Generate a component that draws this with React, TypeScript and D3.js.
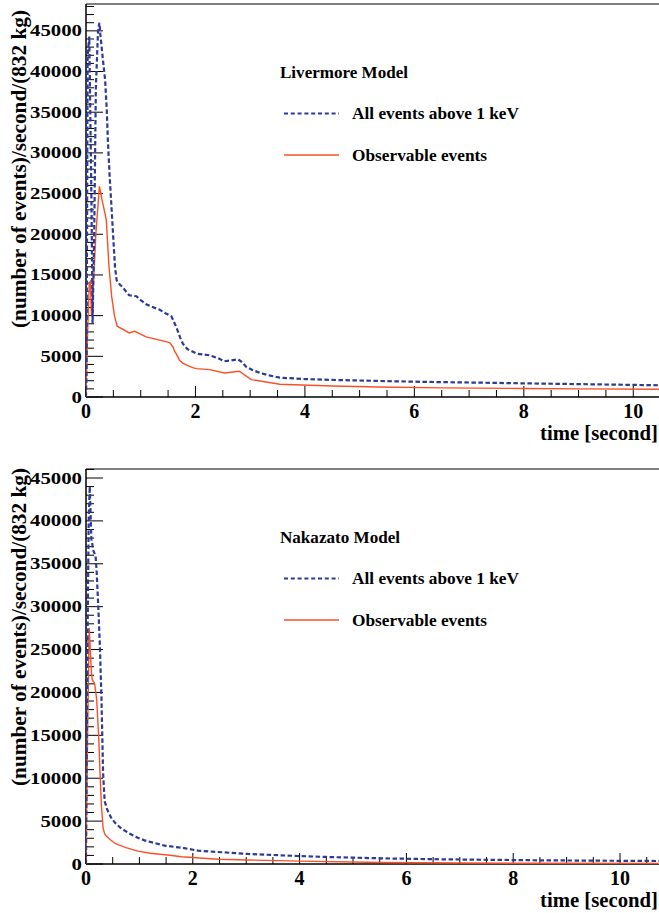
import React from "react";
import * as d3 from "d3";

// ---------- data ----------
const yTicks = [0, 5000, 10000, 15000, 20000, 25000, 30000, 35000, 40000, 45000];
const xTicks = [0, 2, 4, 6, 8, 10];

// Livermore model
const livAllT = [0, 0.01, 0.03, 0.06, 0.1, 0.12, 0.15, 0.18, 0.22, 0.245, 0.26, 0.31, 0.35, 0.38, 0.4, 0.43, 0.46, 0.49, 0.53, 0.56, 0.62, 0.67, 0.75, 0.79, 0.92, 1.0, 1.1, 1.2, 1.34, 1.45, 1.56, 1.65, 1.72, 1.77, 1.85, 2.02, 2.26, 2.4, 2.53, 2.65, 2.78, 2.85, 2.93, 3.05, 3.18, 3.35, 3.54, 4.0, 4.5, 5.37, 6, 7, 8, 9, 10.5];
const livAllV = [0, 3000, 42000, 44300, 24000, 9000, 20000, 38000, 45000, 46000, 44700, 41400, 38900, 35200, 31500, 27400, 24000, 20500, 16000, 14350, 13800, 13500, 12800, 12500, 12380, 11900, 11400, 11100, 10750, 10300, 9920, 8600, 7300, 6560, 5900, 5330, 5120, 4800, 4390, 4500, 4630, 4300, 3690, 3300, 2950, 2650, 2380, 2200, 2100, 1970, 1880, 1780, 1680, 1580, 1440];
const livObsT = [0, 0.03, 0.06, 0.08, 0.1, 0.13, 0.18, 0.245, 0.3, 0.37, 0.42, 0.47, 0.52, 0.57, 0.79, 0.89, 1.1, 1.53, 1.59, 1.62, 1.65, 1.68, 1.71, 1.76, 1.85, 1.95, 2.02, 2.26, 2.53, 2.8, 3.02, 3.54, 4.5, 5.37, 6.5, 8, 9, 10.5];
const livObsV = [0, 8000, 14000, 14200, 10000, 13000, 20000, 25900, 24000, 21800, 16000, 12300, 10000, 8700, 7870, 8080, 7380, 6690, 6150, 5600, 5300, 4900, 4510, 4200, 3900, 3600, 3490, 3370, 2950, 3160, 2140, 1560, 1350, 1230, 1120, 1050, 1000, 950];

// Nakazato model
const nakAllT = [0, 0.02, 0.05, 0.07, 0.085, 0.1, 0.14, 0.18, 0.2, 0.23, 0.26, 0.29, 0.32, 0.35, 0.4, 0.48, 0.56, 0.66, 0.8, 0.97, 1.1, 1.28, 1.47, 1.84, 2.1, 2.47, 3.03, 3.5, 3.96, 4.5, 5.52, 6.5, 7.5, 8.5, 9.5, 10.73];
const nakAllV = [0, 20000, 40000, 44000, 41000, 37900, 36500, 35900, 34000, 30000, 25400, 19200, 10600, 7300, 6300, 5300, 4700, 4150, 3600, 3050, 2750, 2450, 2150, 1850, 1550, 1400, 1170, 1050, 935, 820, 660, 560, 490, 430, 390, 350];
const nakObsT = [0, 0.03, 0.06, 0.08, 0.1, 0.115, 0.16, 0.2, 0.24, 0.26, 0.29, 0.32, 0.35, 0.38, 0.45, 0.54, 0.6, 0.75, 0.97, 1.2, 1.53, 1.79, 2.47, 3.03, 4, 5.52, 7, 8.5, 10.73];
const nakObsV = [0, 15000, 27500, 25000, 22500, 21500, 21100, 19200, 14500, 11000, 6700, 4170, 3500, 3250, 2850, 2420, 2250, 1900, 1500, 1250, 1050, 850, 560, 470, 330, 170, 110, 80, 50];

const BLUE = "#2c3a98";
const RED = "#fa5026";
const FONT = "'Liberation Serif', 'Times New Roman', serif";

type PanelProps = {
  id: string;
  top: number;
  bottom: number;
  xMax: number;
  yMax: number;
  title: string;
  titleWidth: number;
  yTitleEnd: number;
  allT: number[];
  allV: number[];
  obsT: number[];
  obsV: number[];
};

const LEFT = 86;
const RIGHT = 659;

function Panel(p: PanelProps) {
  const x = d3.scaleLinear().domain([0, p.xMax]).range([LEFT, RIGHT]);
  const y = d3.scaleLinear().domain([0, p.yMax]).range([p.bottom, p.top]);
  const line = d3
    .line<[number, number]>()
    .x((d) => x(d[0]))
    .y((d) => y(d[1]));
  const allPts = p.allT.map((t, i) => [t, p.allV[i]] as [number, number]);
  const obsPts = p.obsT.map((t, i) => [t, p.obsV[i]] as [number, number]);

  const yMinor = d3.range(0, p.yMax, 1000);
  const xMinor = d3.range(0, p.xMax + 1e-9, 0.5);

  const legX1 = 284;
  const legX2 = 339;
  const legText = 352;
  const l1 = p.top + 109.5;
  const l2 = p.top + 151;

  return (
    <g>
      <defs>
        <clipPath id={"clip" + p.id}>
          <rect x={LEFT} y={p.top} width={RIGHT - LEFT + 5} height={p.bottom - p.top} />
        </clipPath>
      </defs>
      {/* frame */}
      <line x1={LEFT} x2={RIGHT + 5} y1={p.top} y2={p.top} stroke="#000" strokeWidth={1.2} />
      <line x1={LEFT} x2={LEFT} y1={p.top} y2={p.bottom} stroke="#000" strokeWidth={1.5} />
      <line x1={LEFT} x2={RIGHT + 5} y1={p.bottom} y2={p.bottom} stroke="#000" strokeWidth={1.5} />

      {/* y ticks */}
      {yMinor.map((v) => {
        const major = v % 5000 === 0;
        return (
          <line key={"ym" + v} x1={LEFT} x2={LEFT + (major ? 17 : 8)} y1={y(v)} y2={y(v)} stroke="#000" strokeWidth={1} />
        );
      })}
      {/* x ticks */}
      {xMinor.map((v) => {
        const major = Math.abs(v % 2) < 1e-9;
        return (
          <line key={"xm" + v} x1={x(v)} x2={x(v)} y1={p.bottom} y2={p.bottom - (major ? 11 : 7)} stroke="#000" strokeWidth={1} />
        );
      })}

      {/* curves */}
      <g clipPath={`url(#clip${p.id})`}>
        <path d={line(obsPts) || ""} fill="none" stroke={RED} strokeWidth={1.4} />
        <path d={line(allPts) || ""} fill="none" stroke={BLUE} strokeWidth={2.2} strokeDasharray="4.5,2.5" />
      </g>

      {/* y tick labels */}
      {yTicks.map((v) => {
        const s = String(v);
        return (
          <text key={"yl" + v} x={82} y={y(v) + 5.5} textAnchor="end" fontFamily={FONT} fontWeight="bold" fontSize={16}
            textLength={10.4 * s.length} lengthAdjust="spacingAndGlyphs">
            {s}
          </text>
        );
      })}
      {/* x tick labels */}
      {xTicks.map((v) => (
        <text key={"xl" + v} x={x(v)} y={p.bottom + 21} textAnchor="middle" fontFamily={FONT} fontWeight="bold" fontSize={20}>
          {v}
        </text>
      ))}

      {/* axis titles */}
      <text x={658} y={p.bottom + 43} textAnchor="end" fontFamily={FONT} fontWeight="bold" fontSize={20}
        textLength={118} lengthAdjust="spacingAndGlyphs">
        time [second]
      </text>
      <text transform={`translate(26,${p.yTitleEnd}) rotate(-90)`} textAnchor="end" fontFamily={FONT} fontWeight="bold" fontSize={21}
        textLength={318} lengthAdjust="spacingAndGlyphs">
        (number of events)/second/(832 kg)
      </text>

      {/* legend */}
      <text x={280} y={p.top + 74} fontFamily={FONT} fontWeight="bold" fontSize={17} textLength={p.titleWidth} lengthAdjust="spacingAndGlyphs">
        {p.title}
      </text>
      <line x1={legX1} x2={legX2} y1={l1} y2={l1} stroke={BLUE} strokeWidth={2} strokeDasharray="4,2.8" />
      <text x={legText} y={l1 + 5.5} fontFamily={FONT} fontWeight="bold" fontSize={16.5} textLength={167} lengthAdjust="spacingAndGlyphs">
        All events above 1 keV
      </text>
      <line x1={legX1} x2={legX2} y1={l2} y2={l2} stroke={RED} strokeWidth={1.4} />
      <text x={legText} y={l2 + 6} fontFamily={FONT} fontWeight="bold" fontSize={16.5} textLength={135} lengthAdjust="spacingAndGlyphs">
        Observable events
      </text>
    </g>
  );
}

export default function App() {
  return (
    <svg width={659} height={913} style={{ position: "absolute", left: 0, top: 0, background: "#fff" }}>
      <rect width={659} height={913} fill="#fff" />
      <Panel id="a" top={4} bottom={397} xMax={10.47} yMax={48300} title="Livermore Model" titleWidth={128} yTitleEnd={10}
        allT={livAllT} allV={livAllV} obsT={livObsT} obsV={livObsV} />
      <Panel id="b" top={469} bottom={864} xMax={10.73} yMax={46050} title="Nakazato Model" titleWidth={120} yTitleEnd={468}
        allT={nakAllT} allV={nakAllV} obsT={nakObsT} obsV={nakObsV} />
    </svg>
  );
}
